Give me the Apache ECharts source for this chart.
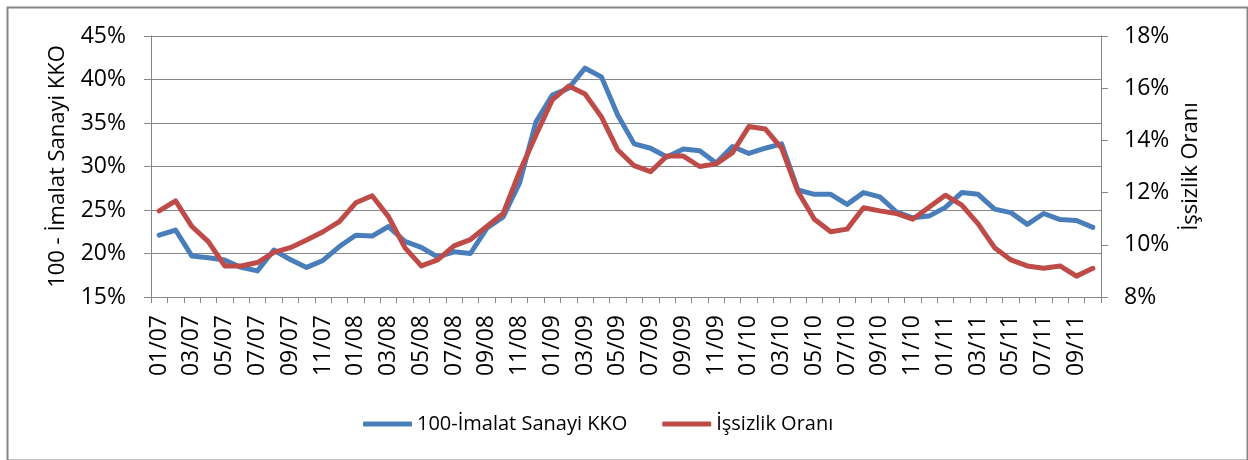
<!DOCTYPE html>
<html>
<head>
<meta charset="utf-8">
<script src="https://cdn.jsdelivr.net/npm/echarts@6/dist/echarts.min.js"></script>
<style>
html,body{margin:0;padding:0;background:#fff;}
#chart{width:1248px;height:460px;}
</style>
</head>
<body>
<div id="chart"></div>
<script>
// months 01/07 .. 10/11
const years = ['07','08','09','10','11'];
const categories = [];
years.forEach(function(y){
  for (let m = 1; m <= 12; m++) {
    if (y === '11' && m > 10) break;
    categories.push((m < 10 ? '0' + m : '' + m) + '/' + y);
  }
});

const seriesNames = ['100-İmalat Sanayi KKO', 'İşsizlik Oranı'];
const axisNames = ['100 - İmalat Sanayi KKO', 'İşsizlik Oranı'];

// 100 - manufacturing capacity utilisation (%), left axis
const kko = [
  22.1, 22.7, 19.7, 19.5, 19.25, 18.4, 18.0, 20.4, 19.3, 18.4, 19.2, 20.8,
  22.1, 22.0, 23.1, 21.4, 20.7, 19.6, 20.2, 20.0, 22.9, 24.2, 28.1, 35.1,
  38.2, 39.0, 41.3, 40.3, 35.9, 32.6, 32.1, 31.1, 32.0, 31.8, 30.4, 32.3,
  31.5, 32.1, 32.6, 27.3, 26.8, 26.8, 25.65, 27.0, 26.5, 24.8, 24.1, 24.3,
  25.3, 27.0, 26.8, 25.1, 24.7, 23.35, 24.6, 23.9, 23.8, 23.0
];

// unemployment rate (%), right axis
const unemployment = [
  11.3, 11.68, 10.7, 10.12, 9.19, 9.19, 9.32, 9.71, 9.89, 10.18, 10.5, 10.89,
  11.61, 11.88, 11.08, 9.89, 9.19, 9.42, 9.96, 10.2, 10.7, 11.2, 12.8, 14.2,
  15.55, 16.08, 15.78, 14.9, 13.63, 13.03, 12.8, 13.4, 13.4, 13.0, 13.1, 13.53,
  14.53, 14.44, 13.7, 12.03, 10.98, 10.5, 10.6, 11.42, 11.3, 11.2, 10.98, 11.44,
  11.9, 11.52, 10.8, 9.89, 9.42, 9.19, 9.1, 9.19, 8.8, 9.1
];

const FONT = 'Open Sans';
const GRAY = '#868686';
const chart = echarts.init(document.getElementById('chart'), null, {renderer: 'canvas'});
chart.setOption({
  animation: false,
  backgroundColor: '#ffffff',
  textStyle: {fontFamily: FONT, color: '#000'},
  graphic: [{
    type: 'rect',
    left: 5, top: 5,
    shape: {width: 1240, height: 453},
    style: {fill: 'none', stroke: GRAY, lineWidth: 2},
    silent: true
  }],
  grid: {left: 151, right: 147, top: 36, bottom: 163, containLabel: false},
  legend: {
    data: seriesNames,
    top: 409,
    left: 358,
    itemWidth: 49,
    itemHeight: 5,
    itemGap: 35,
    icon: 'roundRect',
    textStyle: {fontFamily: FONT, fontSize: 20, color: '#000'}
  },
  xAxis: {
    type: 'category',
    data: categories,
    boundaryGap: true,
    axisLine: {lineStyle: {color: GRAY, width: 1}},
    axisTick: {show: true, alignWithLabel: false, interval: 0, length: 6, lineStyle: {color: GRAY}},
    axisLabel: {rotate: 90, interval: 1, fontSize: 23, fontFamily: FONT, color: '#000', margin: 18},
    splitLine: {show: false}
  },
  yAxis: [{
    type: 'value',
    min: 15, max: 45, interval: 5,
    position: 'left',
    name: axisNames[0],
    nameLocation: 'middle',
    nameRotate: 90,
    nameGap: 82,
    nameTextStyle: {fontFamily: FONT, fontSize: 22, color: '#000'},
    axisLine: {show: true, lineStyle: {color: GRAY}},
    axisTick: {show: true, length: 7, lineStyle: {color: GRAY}},
    axisLabel: {formatter: '{value}%', fontSize: 23, fontFamily: FONT, color: '#000', margin: 25},
    splitLine: {show: true, lineStyle: {color: GRAY, width: 1}}
  }, {
    type: 'value',
    min: 8, max: 18, interval: 2,
    position: 'right',
    name: axisNames[1],
    nameLocation: 'middle',
    nameRotate: 90,
    nameGap: 78,
    nameTextStyle: {fontFamily: FONT, fontSize: 22, color: '#000'},
    axisLine: {show: true, lineStyle: {color: GRAY}},
    axisTick: {show: true, length: 7, lineStyle: {color: GRAY}},
    axisLabel: {formatter: '{value}%', fontSize: 23, fontFamily: FONT, color: '#000', margin: 23},
    splitLine: {show: false}
  }],
  series: [{
    name: seriesNames[0],
    type: 'line',
    yAxisIndex: 0,
    data: kko,
    symbol: 'none',
    lineStyle: {color: '#4A7EBB', width: 5, cap: 'round', join: 'round'},
    itemStyle: {color: '#4A7EBB'},
    z: 2
  }, {
    name: seriesNames[1],
    type: 'line',
    yAxisIndex: 1,
    data: unemployment,
    symbol: 'none',
    lineStyle: {color: '#BE4B48', width: 5, cap: 'round', join: 'round'},
    itemStyle: {color: '#BE4B48'},
    z: 3
  }]
});
</script>
</body>
</html>
